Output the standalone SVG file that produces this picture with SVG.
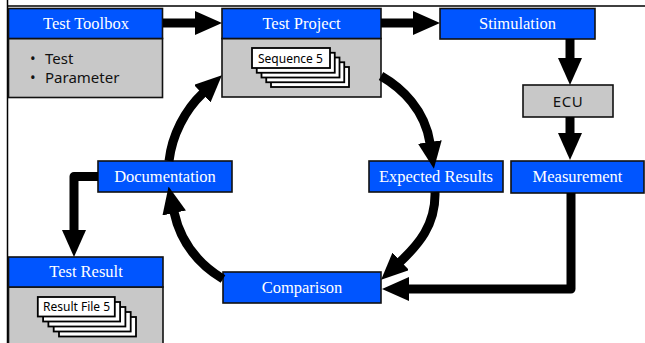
<svg xmlns="http://www.w3.org/2000/svg" width="645" height="343" viewBox="0 0 645 343">
  <style>
    .hdr { fill: #0055ff; stroke: #111; stroke-width: 1.6; }
    .body { fill: #c8c8c8; stroke: #111; stroke-width: 1.6; }
    .card { fill: #fff; stroke: #000; stroke-width: 1.8; }
    .title { font-family: "Liberation Serif", "DejaVu Serif", serif; font-size: 16.5px; fill: #fff; text-anchor: middle; }
    .txt { font-family: "Noto Sans", "Open Sans", sans-serif; font-size: 15px; fill: #111; }
    .small { font-family: "Noto Sans", "Open Sans", sans-serif; font-size: 12px; fill: #000; }
    .wire { fill: none; stroke: #000; stroke-width: 9; stroke-linejoin: round; marker-end: url(#head); }
    .frame { stroke: #000; stroke-width: 1.5; fill: none; }
  </style>
  <defs>
    <marker id="head" markerUnits="userSpaceOnUse" viewBox="0 0 27 24" markerWidth="27" markerHeight="24" refX="1" refY="12" orient="auto">
      <path d="M0,0 L27,12 L0,24 z" fill="#000"/>
    </marker>
  </defs>

  <rect width="645" height="343" fill="#fff"/>
  <!-- page frame -->
  <path class="frame" d="M7.5,0 V343 M7.5,6 H645"/>

  <g id="test-toolbox">
    <rect class="body" x="8.5" y="38.5" width="154" height="59"/>
    <rect class="hdr" x="8.5" y="8.5" width="154" height="30"/>
    <text class="title" x="86" y="28.5">Test Toolbox</text>
    <text class="txt" x="30" y="64">•</text>
    <text class="txt" x="45" y="64">Test</text>
    <text class="txt" x="30" y="83">•</text>
    <text class="txt" x="45" y="83">Parameter</text>
  </g>

  <g id="test-project">
    <rect class="body" x="222" y="38.5" width="159" height="58.5"/>
    <rect class="hdr" x="222" y="8.5" width="159" height="30"/>
    <text class="title" x="301.5" y="28.5">Test Project</text>
    <rect class="card" x="271" y="67" width="78" height="20"/>
    <rect class="card" x="266.25" y="62.25" width="78" height="20"/>
    <rect class="card" x="261.5" y="57.5" width="78" height="20"/>
    <rect class="card" x="256.75" y="52.75" width="78" height="20"/>
    <rect class="card" x="252" y="48" width="78" height="20"/>
    <text class="small" x="258" y="63">Sequence 5</text>
  </g>

  <g id="stimulation">
    <rect class="hdr" x="440" y="8.5" width="155" height="30.5"/>
    <text class="title" x="517.5" y="28.5">Stimulation</text>
  </g>

  <g id="ecu">
    <rect class="body" x="523" y="85" width="90" height="32"/>
    <text class="txt" x="568" y="107" text-anchor="middle" letter-spacing="0.5">ECU</text>
  </g>

  <g id="measurement">
    <rect class="hdr" x="511" y="161" width="133" height="32"/>
    <text class="title" x="577.5" y="182">Measurement</text>
  </g>

  <g id="expected-results">
    <rect class="hdr" x="369" y="161" width="134" height="31"/>
    <text class="title" x="436" y="182">Expected Results</text>
  </g>

  <g id="documentation">
    <rect class="hdr" x="98" y="161" width="134" height="31"/>
    <text class="title" x="165" y="182">Documentation</text>
  </g>

  <g id="comparison">
    <rect class="hdr" x="223" y="272" width="158" height="31"/>
    <text class="title" x="302" y="293">Comparison</text>
  </g>

  <g id="test-result">
    <rect class="body" x="8.5" y="287" width="154.5" height="60"/>
    <rect class="hdr" x="8.5" y="257" width="154.5" height="30"/>
    <text class="title" x="86" y="277">Test Result</text>
    <rect class="card" x="59" y="317" width="77" height="19.5"/>
    <rect class="card" x="53.7" y="312" width="77" height="19.5"/>
    <rect class="card" x="48.4" y="307" width="77" height="19.5"/>
    <rect class="card" x="43.1" y="302" width="77" height="19.5"/>
    <rect class="card" x="37.8" y="297" width="77" height="19.5"/>
    <text class="small" x="43" y="311">Result File 5</text>
  </g>

  <g id="connectors">
    <path class="wire" d="M163,23 H196"/>
    <path class="wire" d="M381,23 H414"/>
    <path class="wire" d="M570,39 V59"/>
    <path class="wire" d="M570,117 V134"/>
    <path class="wire" d="M571,193 V289 H408"/>
    <path class="wire" d="M98,176.5 H74 V231"/>
    <path class="wire" d="M381,76 C402,88 425,110 430,143"/>
    <path class="wire" d="M435,192 C436,225 418,245 400,262"/>
    <path class="wire" d="M223,279 C195,262 180,240 174,212"/>
    <path class="wire" d="M169,161 C172,135 185,110 203,93"/>
  </g>
</svg>
